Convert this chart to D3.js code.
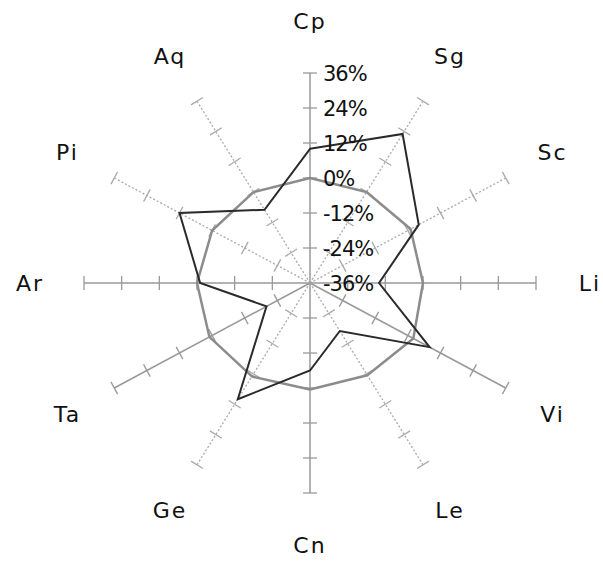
<!DOCTYPE html>
<html>
<head>
<meta charset="utf-8">
<script src="https://cdn.jsdelivr.net/npm/d3@7"></script>
<style>
  body { margin: 0; background: #fff; }
  text { font-family: "DejaVu Sans", sans-serif; }
</style>
</head>
<body>
<div id="main"></div>
<script>
var categories = ["Cp", "Sg", "Sc", "Li", "Vi", "Le", "Cn", "Ge", "Ta", "Ar", "Pi", "Aq"];
var seriesDark = [10, 23, 4, -14, 8, -17, -6, 10, -20, -1, 12, -7];
var seriesGray = [0, 0, 1, 0, 2, 0.5, 0.5, 1, 1, 0, 0, 0];
var tickValues = [-36, -24, -12, 0, 12, 24, 36];
var tickLabels = ["-36%", "-24%", "-12%", "0%", "12%", "24%", "36%"];

var svg = d3.select("#main").append("svg")
    .attr("width", 603)
    .attr("height", 562);

var cx = 310, cy = 283,
    rx = 226, ry = 210,
    n = categories.length;

var r = d3.scaleLinear().domain([-36, 36]).range([0, 1]);

function angle(i) { return i * 2 * Math.PI / n; }
function px(i, v) { return cx + Math.sin(angle(i)) * rx * r(v); }
function py(i, v) { return cy - Math.cos(angle(i)) * ry * r(v); }

// axes drawn solid or dotted like the picture
var solidAxes = [0, 3, 4, 6, 8, 9];

var g = svg.append("g");

categories.forEach(function(c, i) {
    var solid = solidAxes.indexOf(i) >= 0;
    g.append("line")
        .attr("x1", px(i, -36)).attr("y1", py(i, -36))
        .attr("x2", px(i, 36)).attr("y2", py(i, 36))
        .attr("stroke", solid ? "#999" : "#aaa")
        .attr("stroke-width", solid ? 1.5 : 1.3)
        .attr("stroke-dasharray", solid ? null : "2,2");

    // tick marks perpendicular to the axis
    var dx = px(i, 36) - px(i, -36), dy = py(i, 36) - py(i, -36);
    var len = Math.sqrt(dx * dx + dy * dy);
    var nx = -dy / len * 7, ny = dx / len * 7;
    tickValues.slice(1).forEach(function(t) {
        g.append("line")
            .attr("x1", px(i, t) - nx).attr("y1", py(i, t) - ny)
            .attr("x2", px(i, t) + nx).attr("y2", py(i, t) + ny)
            .attr("stroke", solid ? "#999" : "#aaa")
            .attr("stroke-width", 1.3);
    });
});

var line = d3.line()
    .x(function(d, i) { return px(i, d); })
    .y(function(d, i) { return py(i, d); })
    .curve(d3.curveLinearClosed);

g.append("path")
    .datum(seriesGray)
    .attr("fill", "none")
    .attr("stroke", "#8c8c8c")
    .attr("stroke-width", 2.5)
    .attr("stroke-linejoin", "round")
    .attr("d", line);

g.append("path")
    .datum(seriesDark)
    .attr("fill", "none")
    .attr("stroke", "#2a2a2a")
    .attr("stroke-width", 2)
    .attr("stroke-linejoin", "miter")
    .attr("d", line);

// value labels along the top axis
g.selectAll(".tick-label")
    .data(tickValues)
    .enter().append("text")
    .attr("class", "tick-label")
    .attr("x", 323)
    .attr("y", function(d) { return py(0, d); })
    .attr("dy", "0.36em")
    .attr("font-size", 21)
    .attr("letter-spacing", -1)
    .attr("fill", "#111")
    .text(function(d, i) { return tickLabels[i]; });

// category labels
var lrx = 280, lry = 262;
g.selectAll(".cat")
    .data(categories)
    .enter().append("text")
    .attr("class", "cat")
    .attr("x", function(d, i) { return cx + Math.sin(angle(i)) * lrx; })
    .attr("y", function(d, i) { return cy - Math.cos(angle(i)) * lry; })
    .attr("dy", "0.36em")
    .attr("text-anchor", "middle")
    .attr("font-size", 22)
    .attr("letter-spacing", 2)
    .attr("fill", "#111")
    .text(function(d) { return d; });
</script>
</body>
</html>
